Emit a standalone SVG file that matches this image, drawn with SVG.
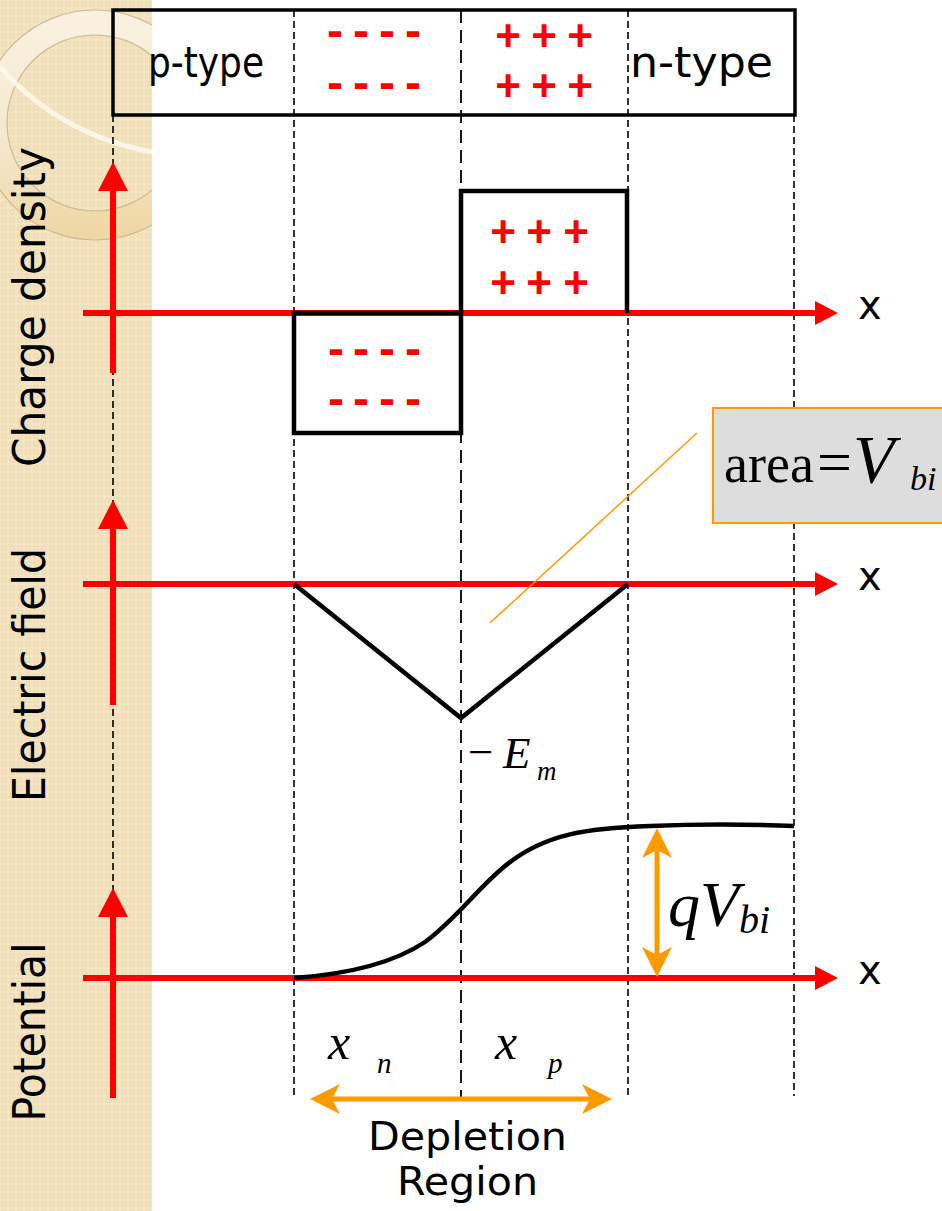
<svg xmlns="http://www.w3.org/2000/svg" width="942" height="1211" viewBox="0 0 942 1211">
<style>
.lbl{font-family:"DejaVu Sans",sans-serif;fill:#000}
.math{font-family:"Liberation Serif","Times New Roman",serif;fill:#000}
.it{font-style:italic}
.sgn{font-family:"Liberation Sans",Arial,sans-serif;font-weight:bold;fill:#ff0000;text-anchor:middle}
.dash{stroke:#000;stroke-width:1.6;stroke-dasharray:7 4;fill:none}
.dashL{stroke:#000;stroke-width:1.8;stroke-dasharray:13 7;fill:none}
.axis{stroke:#ff0000;stroke-width:6;fill:none}
.curve{stroke:#000;stroke-width:4.5;fill:none}
.org{stroke:#ff9900;stroke-width:5;fill:none}
</style>
<defs>
<pattern id="chk" width="8" height="8" patternUnits="userSpaceOnUse">
<rect width="8" height="8" fill="#f4e4c1"/>
<rect x="2" y="2" width="4" height="4" fill="none" stroke="#ead8b0" stroke-width="1"/>
</pattern>
<linearGradient id="ringG" x1="0" y1="0" x2="0" y2="1">
<stop offset="0" stop-color="#fbf4e6"/>
<stop offset="0.55" stop-color="#f6ead2"/>
<stop offset="1" stop-color="#eed49c"/>
</linearGradient>
<clipPath id="stripClip"><rect x="0" y="0" width="152" height="1211"/></clipPath>
<marker id="redH" viewBox="0 -12 23 24" refX="1" refY="0" markerWidth="23" markerHeight="24" markerUnits="userSpaceOnUse" orient="auto">
<path d="M0,-12 L23,0 L0,12 z" fill="#ff0000"/>
</marker>
<marker id="redV" viewBox="0 -15 29 30" refX="1" refY="0" markerWidth="29" markerHeight="30" markerUnits="userSpaceOnUse" orient="auto">
<path d="M0,-15 L29,0 L0,15 z" fill="#ff0000"/>
</marker>
<marker id="orgA" viewBox="0 -15 30 30" refX="8" refY="0" markerWidth="30" markerHeight="30" markerUnits="userSpaceOnUse" orient="auto-start-reverse">
<path d="M0,-15 L30,0 L0,15 L8,0 z" fill="#ff9900"/>
</marker>
</defs>

<g id="background">
<rect x="0" y="0" width="942" height="1211" fill="#ffffff"/>
<rect x="0" y="0" width="152" height="1211" fill="url(#chk)"/>
<g clip-path="url(#stripClip)">
<path d="M95,10 A115,115 0 1,1 94.9,10 Z M95,35 A88,88 0 1,0 95.1,35 Z" fill="url(#ringG)" fill-rule="evenodd" opacity="0.85"/>
<circle cx="95" cy="125" r="115" fill="none" stroke="#cdbb98" stroke-width="1.2"/>
<circle cx="95" cy="123" r="88" fill="none" stroke="#cdbb98" stroke-width="1.2"/>
<path d="M0,67 Q60,135 152,152" fill="none" stroke="#fffaf0" stroke-width="5" opacity="0.8"/>
</g>
</g>

<g id="guides">
<line class="dash" x1="113" y1="115" x2="113" y2="1098"/>
<line class="dash" x1="294" y1="10" x2="294" y2="1096"/>
<line class="dashL" x1="461" y1="10" x2="461" y2="1098"/>
<line class="dash" x1="628" y1="10" x2="628" y2="1096"/>
<line class="dash" x1="794" y1="115" x2="794" y2="1096"/>
</g>

<g id="junction-box">
<rect x="113" y="10" width="682" height="105" fill="none" stroke="#000" stroke-width="3.5"/>
<text class="lbl" x="148" y="77" font-size="42" textLength="116" lengthAdjust="spacingAndGlyphs">p-type</text>
<text class="lbl" x="630" y="77" font-size="43" textLength="143" lengthAdjust="spacingAndGlyphs">n-type</text>
<text class="sgn" font-size="48" x="335 361 387 413" y="47">----</text>
<text class="sgn" font-size="48" x="335 361 387 413" y="99">----</text>
<text class="sgn" font-size="44" x="508 544 580" y="51">+++</text>
<text class="sgn" font-size="44" x="508 544 580" y="101">+++</text>
</g>

<g id="axes">
<line class="axis" x1="113" y1="373" x2="113" y2="190" marker-end="url(#redV)"/>
<line class="axis" x1="83" y1="313" x2="816" y2="313" marker-end="url(#redH)"/>
<line class="axis" x1="113" y1="705" x2="113" y2="528" marker-end="url(#redV)"/>
<line class="axis" x1="83" y1="584" x2="816" y2="584" marker-end="url(#redH)"/>
<line class="axis" x1="113" y1="1098" x2="113" y2="916" marker-end="url(#redV)"/>
<line class="axis" x1="83" y1="978" x2="816" y2="978" marker-end="url(#redH)"/>
<text class="lbl" x="858" y="319" font-size="40">x</text>
<text class="lbl" x="858" y="590" font-size="40">x</text>
<text class="lbl" x="858" y="984" font-size="40">x</text>
</g>

<g id="axis-labels">
<text class="lbl" transform="translate(45,307) rotate(-90)" text-anchor="middle" font-size="44" textLength="320" lengthAdjust="spacingAndGlyphs">Charge density</text>
<text class="lbl" transform="translate(45,675) rotate(-90)" text-anchor="middle" font-size="44" textLength="254" lengthAdjust="spacingAndGlyphs">Electric field</text>
<text class="lbl" transform="translate(45,1032) rotate(-90)" text-anchor="middle" font-size="44" textLength="179" lengthAdjust="spacingAndGlyphs">Potential</text>
</g>

<g id="charge-density">
<path d="M461,313 L461,191 L627,191 L627,313" class="curve"/>
<path d="M294,313 L461,313 L461,433 L294,433 Z" class="curve" stroke-linejoin="miter"/>
<text class="sgn" font-size="44" x="503 539 576" y="247">+++</text>
<text class="sgn" font-size="44" x="503 539 576" y="298">+++</text>
<text class="sgn" font-size="48" x="336 361 387 413" y="365">----</text>
<text class="sgn" font-size="48" x="336 361 387 413" y="415">----</text>
</g>

<g id="electric-field">
<path d="M294,584 L461,718 L628,584" class="curve"/>
<text class="math" font-size="45"><tspan x="468" y="767">−</tspan><tspan x="503" y="768" font-style="italic">E</tspan><tspan x="537" y="780" font-size="27" font-style="italic">m</tspan></text>
</g>

<g id="area-note">
<line x1="490" y1="623" x2="697" y2="433" stroke="#ff9900" stroke-width="1.5"/>
<rect x="713" y="408" width="240" height="115" fill="#dddddd" stroke="#ff9900" stroke-width="2"/>
<text class="math" font-size="54"><tspan x="724" y="482">area</tspan><tspan x="817" y="483" font-size="62">=</tspan><tspan x="853" y="482" font-size="68" font-style="italic">V</tspan><tspan x="910" y="490" font-size="34" font-style="italic">bi</tspan></text>
</g>

<g id="potential">
<path d="M294,978 C350,974 395,962 425,942 C455,920 478,888 505,866 C545,833 590,828 650,826 Q720,823 794,826" class="curve"/>
<line class="org" x1="657" y1="850" x2="657" y2="955" marker-start="url(#orgA)" marker-end="url(#orgA)"/>
<text class="math it" font-size="64"><tspan x="668" y="926">qV</tspan><tspan dy="7" font-size="40">bi</tspan></text>
</g>

<g id="depletion">
<text class="math it" font-size="50"><tspan x="328" y="1059">x</tspan><tspan x="377" y="1073" font-size="29">n</tspan></text>
<text class="math it" font-size="50"><tspan x="495" y="1059">x</tspan><tspan x="548" y="1073" font-size="29">p</tspan></text>
<line class="org" x1="332" y1="1099" x2="590" y2="1099" marker-start="url(#orgA)" marker-end="url(#orgA)"/>
<text class="lbl" x="467.5" y="1150" font-size="39" text-anchor="middle" textLength="199" lengthAdjust="spacingAndGlyphs">Depletion</text>
<text class="lbl" x="467.5" y="1195" font-size="39" text-anchor="middle" textLength="141" lengthAdjust="spacingAndGlyphs">Region</text>
</g>
</svg>
